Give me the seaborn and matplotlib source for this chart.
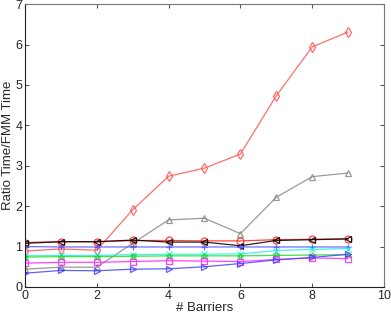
import matplotlib
matplotlib.use("Agg")
import matplotlib.pyplot as plt
import seaborn as sns

# ── Data ──
barriers = [0, 1, 2, 3, 4, 5, 6, 7, 8, 9]

red_diamond = [0.89, 0.94, 0.91, 1.91, 2.74, 2.94, 3.29, 4.73, 5.94, 6.31]
gray_tri = [0.44, 0.49, 0.49, 1.08, 1.66, 1.70, 1.32, 2.22, 2.73, 2.82]
red_circle = [1.10, 1.12, 1.12, 1.15, 1.15, 1.14, 1.14, 1.17, 1.18, 1.19]
black_left = [1.08, 1.12, 1.12, 1.16, 1.11, 1.11, 1.02, 1.15, 1.17, 1.19]
blue_plus = [1.00, 0.99, 0.99, 0.99, 0.99, 0.99, 0.99, 0.99, 0.99, 0.99]
cyan_x = [0.77, 0.78, 0.78, 0.80, 0.81, 0.81, 0.82, 0.90, 0.93, 0.95]
green_star = [0.74, 0.75, 0.75, 0.76, 0.77, 0.77, 0.77, 0.78, 0.79, 0.80]
magenta_sq = [0.59, 0.61, 0.61, 0.63, 0.65, 0.64, 0.63, 0.68, 0.72, 0.70]
blue_right = [0.34, 0.41, 0.40, 0.44, 0.45, 0.50, 0.58, 0.67, 0.73, 0.81]

sns.set_style("white")
plt.rcParams["font.family"] = ["Liberation Sans", "DejaVu Sans"]

fig = plt.figure(figsize=(3.91, 3.15), dpi=100)
ax = fig.add_axes([0.064, 0.089, 0.918, 0.898])

series = [
    (red_diamond, "#ff5555", "d"),
    (gray_tri, "#888888", "^"),
    (red_circle, "#ff2222", "o"),
    (black_left, "#000000", "<"),
    (blue_plus, "#5555ff", "+"),
    (cyan_x, "#22eeee", "x"),
    (green_star, "#22dd22", "*"),
    (magenta_sq, "#ff22ff", "s"),
    (blue_right, "#4444ff", ">"),
]

for vals, color, mk in series:
    filled = mk in ("+", "x")
    sns.lineplot(x=barriers, y=vals, ax=ax, color=color, lw=0.9,
                 marker=mk, markersize=5, alpha=0.85,
                 markerfacecolor=color if filled else "none",
                 markeredgecolor=color, markeredgewidth=0.9)

ax.set_xlim(0, 10)
ax.set_ylim(0, 7)
ax.set_xticks(range(0, 11, 2))
ax.set_yticks(range(0, 8))
ax.set_xlabel("# Barriers", fontsize=9.5, labelpad=0)
ax.set_ylabel("Ratio Time/FMM Time", fontsize=9.5, labelpad=1)
ax.tick_params(direction="in", length=3, labelsize=9, pad=2,
               top=True, right=True, bottom=True, left=True,
               color="#555555")
for side, s in ax.spines.items():
    s.set_color("#222222" if side in ("left", "bottom") else "#777777")
    s.set_linewidth(0.8)

plt.savefig("out.png", dpi=100)
plt.close()
